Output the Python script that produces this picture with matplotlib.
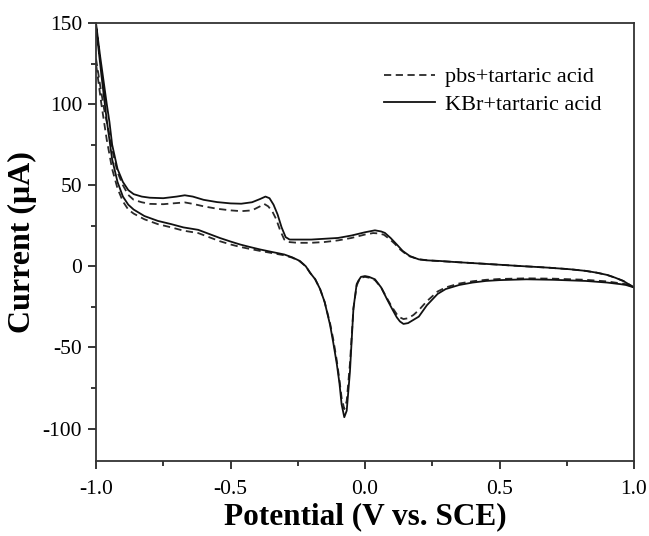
import numpy as np
import matplotlib
matplotlib.use("Agg")
import matplotlib.pyplot as plt

# KBr + tartaric acid, forward scan (-1.0 -> 1.0 V)
kbr_fwd_v = [-1.0, -0.985, -0.97, -0.96, -0.95, -0.94, -0.92, -0.90, -0.88, -0.86,
             -0.83, -0.80, -0.75, -0.70, -0.67, -0.64, -0.60, -0.55, -0.50, -0.46,
             -0.42, -0.39, -0.37, -0.355, -0.34, -0.325, -0.31, -0.295, -0.28, -0.25,
             -0.20, -0.15, -0.10, -0.05, 0.0, 0.037, 0.06, 0.074, 0.095, 0.118,
             0.14, 0.167, 0.20, 0.229, 0.279, 0.33, 0.45, 0.576, 0.68, 0.762,
             0.82, 0.861, 0.90, 0.93, 0.96, 0.98, 1.0]
kbr_fwd_i = [150, 130, 112, 100, 89, 75, 60, 52, 47, 44.5,
             43, 42.3, 42, 43, 43.8, 43, 41, 39.6, 38.8, 38.6,
             39.5, 41.5, 43, 42, 38, 32, 24, 18, 16.5, 16.5,
             16.5, 17, 17.5, 19, 21, 22.2, 21.5, 20.6, 17.5, 13.5,
             9.5, 6.3, 4.3, 3.7, 3.3, 2.7, 1.5, 0.2, -0.8, -1.8,
             -2.8, -3.9, -5.3, -7, -9, -11, -13]

# KBr + tartaric acid, reverse scan (1.0 -> -1.0 V)
kbr_rev_v = [1.0, 0.97, 0.95, 0.90, 0.82, 0.70, 0.60, 0.50, 0.45, 0.40,
             0.35, 0.30, 0.27, 0.23, 0.20, 0.18, 0.16, 0.143, 0.13, 0.118,
             0.10, 0.081, 0.06, 0.037, 0.015, 0.0, -0.015, -0.025, -0.031, -0.043,
             -0.056, -0.068, -0.077, -0.087, -0.095, -0.105, -0.118, -0.13, -0.15, -0.167,
             -0.185, -0.204, -0.22, -0.242, -0.27, -0.30, -0.35, -0.39, -0.43, -0.465,
             -0.50, -0.54, -0.58, -0.62, -0.675, -0.72, -0.77, -0.82, -0.86, -0.88,
             -0.90, -0.92, -0.94, -0.96, -0.98, -1.0]
kbr_rev_i = [-13, -11.5, -11, -10, -9, -8.3, -8, -8.5, -9, -10,
             -11.5, -14, -17, -24, -31, -33, -35, -35.5, -34, -31.4,
             -26, -20, -13, -8, -6.5, -6, -6.5, -9, -11, -26,
             -65, -89, -93, -85, -72, -60, -47, -36, -22, -14,
             -8, -4, 0, 3.3, 5.5, 7.3, 9, 10.4, 12, 13.5,
             15.3, 17.5, 20, 22.5, 24, 26, 28, 31, 35, 38,
             43, 52, 66, 90, 118, 148]

# pbs + tartaric acid, forward scan
pbs_fwd_v = [-1.0, -0.985, -0.97, -0.955, -0.94, -0.92, -0.90, -0.88, -0.86, -0.83,
             -0.80, -0.75, -0.70, -0.67, -0.64, -0.60, -0.55, -0.50, -0.46, -0.42,
             -0.39, -0.375, -0.36, -0.345, -0.33, -0.315, -0.30, -0.285, -0.25, -0.20,
             -0.15, -0.10, -0.05, 0.0, 0.03, 0.05, 0.07, 0.09, 0.11, 0.13,
             0.16, 0.20, 0.25, 0.33, 0.45, 0.576, 0.68, 0.762, 0.82, 0.861,
             0.90, 0.93, 0.96, 0.98, 1.0]
pbs_fwd_i = [128, 112, 97, 85, 72, 58, 50, 44, 41, 39.5,
             38.5, 38.3, 39, 39.4, 38.5, 37, 35.5, 34.5, 34, 34.5,
             37, 38.5, 37, 34, 29, 22, 16.5, 15, 14.5, 14.5,
             15, 16, 17.5, 19.6, 20.5, 20.3, 19.5, 17, 14, 10.5,
             6.5, 4.3, 3.5, 2.7, 1.5, 0.2, -0.8, -1.8, -2.8, -3.9,
             -5.3, -7, -9, -11, -13]

# pbs + tartaric acid, reverse scan
pbs_rev_v = kbr_rev_v
pbs_rev_i = [-13, -11, -10.5, -9.3, -8.3, -7.6, -7.4, -7.8, -8.3, -9.2,
             -10.6, -13, -15.5, -21.5, -27, -30, -32, -32.5, -31.5, -29.5,
             -25, -19.5, -13, -8.5, -7, -6.5, -7, -9.5, -12, -26,
             -60, -83, -88, -81, -70, -58, -45, -35, -22, -14,
             -8, -4, 0, 3, 5.3, 6.8, 8.3, 9.5, 10.8, 12,
             13.5, 15.5, 18, 20.5, 22, 24, 26, 29, 32.5, 35,
             40, 48, 60, 78, 100, 125]

plt.rcParams['font.family'] = ['Liberation Serif', 'DejaVu Serif']

fig = plt.figure(figsize=(6.49, 5.36), dpi=100)
ax = fig.add_axes([96 / 649, 75 / 536, 538 / 649, 438 / 536])

dash = (0, (4, 2.5))
ax.plot(pbs_fwd_v + pbs_rev_v, pbs_fwd_i + pbs_rev_i, color='#2a2a2a', lw=1.3,
        linestyle=dash, label='pbs+tartaric acid')
ax.plot(kbr_fwd_v + kbr_rev_v, kbr_fwd_i + kbr_rev_i, color='#111111', lw=1.3,
        label='KBr+tartaric acid')

ax.set_xlim(-1.0, 1.0)
ax.set_ylim(-120, 150)
ax.set_xticks([-1.0, -0.5, 0.0, 0.5, 1.0])
ax.set_xticks([-0.75, -0.25, 0.25, 0.75], minor=True)
ax.set_yticks([-100, -50, 0, 50, 100, 150])
ax.set_yticks([-75, -25, 25, 75, 125], minor=True)
ax.set_xticklabels(['-1.0', '-0.5', '0.0', '0.5', '1.0'])
ax.set_yticklabels(['-100', '-50', '0', '50', '100', '150'])

ax.tick_params(which='major', direction='out', length=6, width=1.1, labelsize=15.5,
               top=False, right=False, pad=4)
ax.tick_params(which='minor', direction='out', length=3.5, width=1.1,
               top=False, right=False)
ax.tick_params(axis='x', which='major', pad=8)
for s in ax.spines.values():
    s.set_linewidth(1.3)
    s.set_color('#333333')

ax.set_xlabel('Potential (V vs. SCE)', fontsize=22.5, fontweight='bold', labelpad=2)
ax.set_ylabel('Current (μA)', fontsize=23, fontweight='bold', labelpad=4)

ax.legend(loc='upper left', bbox_to_anchor=(0.535, 0.90), frameon=False,
          fontsize=16, handlelength=2.3, handletextpad=0.45, labelspacing=0.3,
          borderpad=0, borderaxespad=0)

fig.savefig('out.png', dpi=100)
